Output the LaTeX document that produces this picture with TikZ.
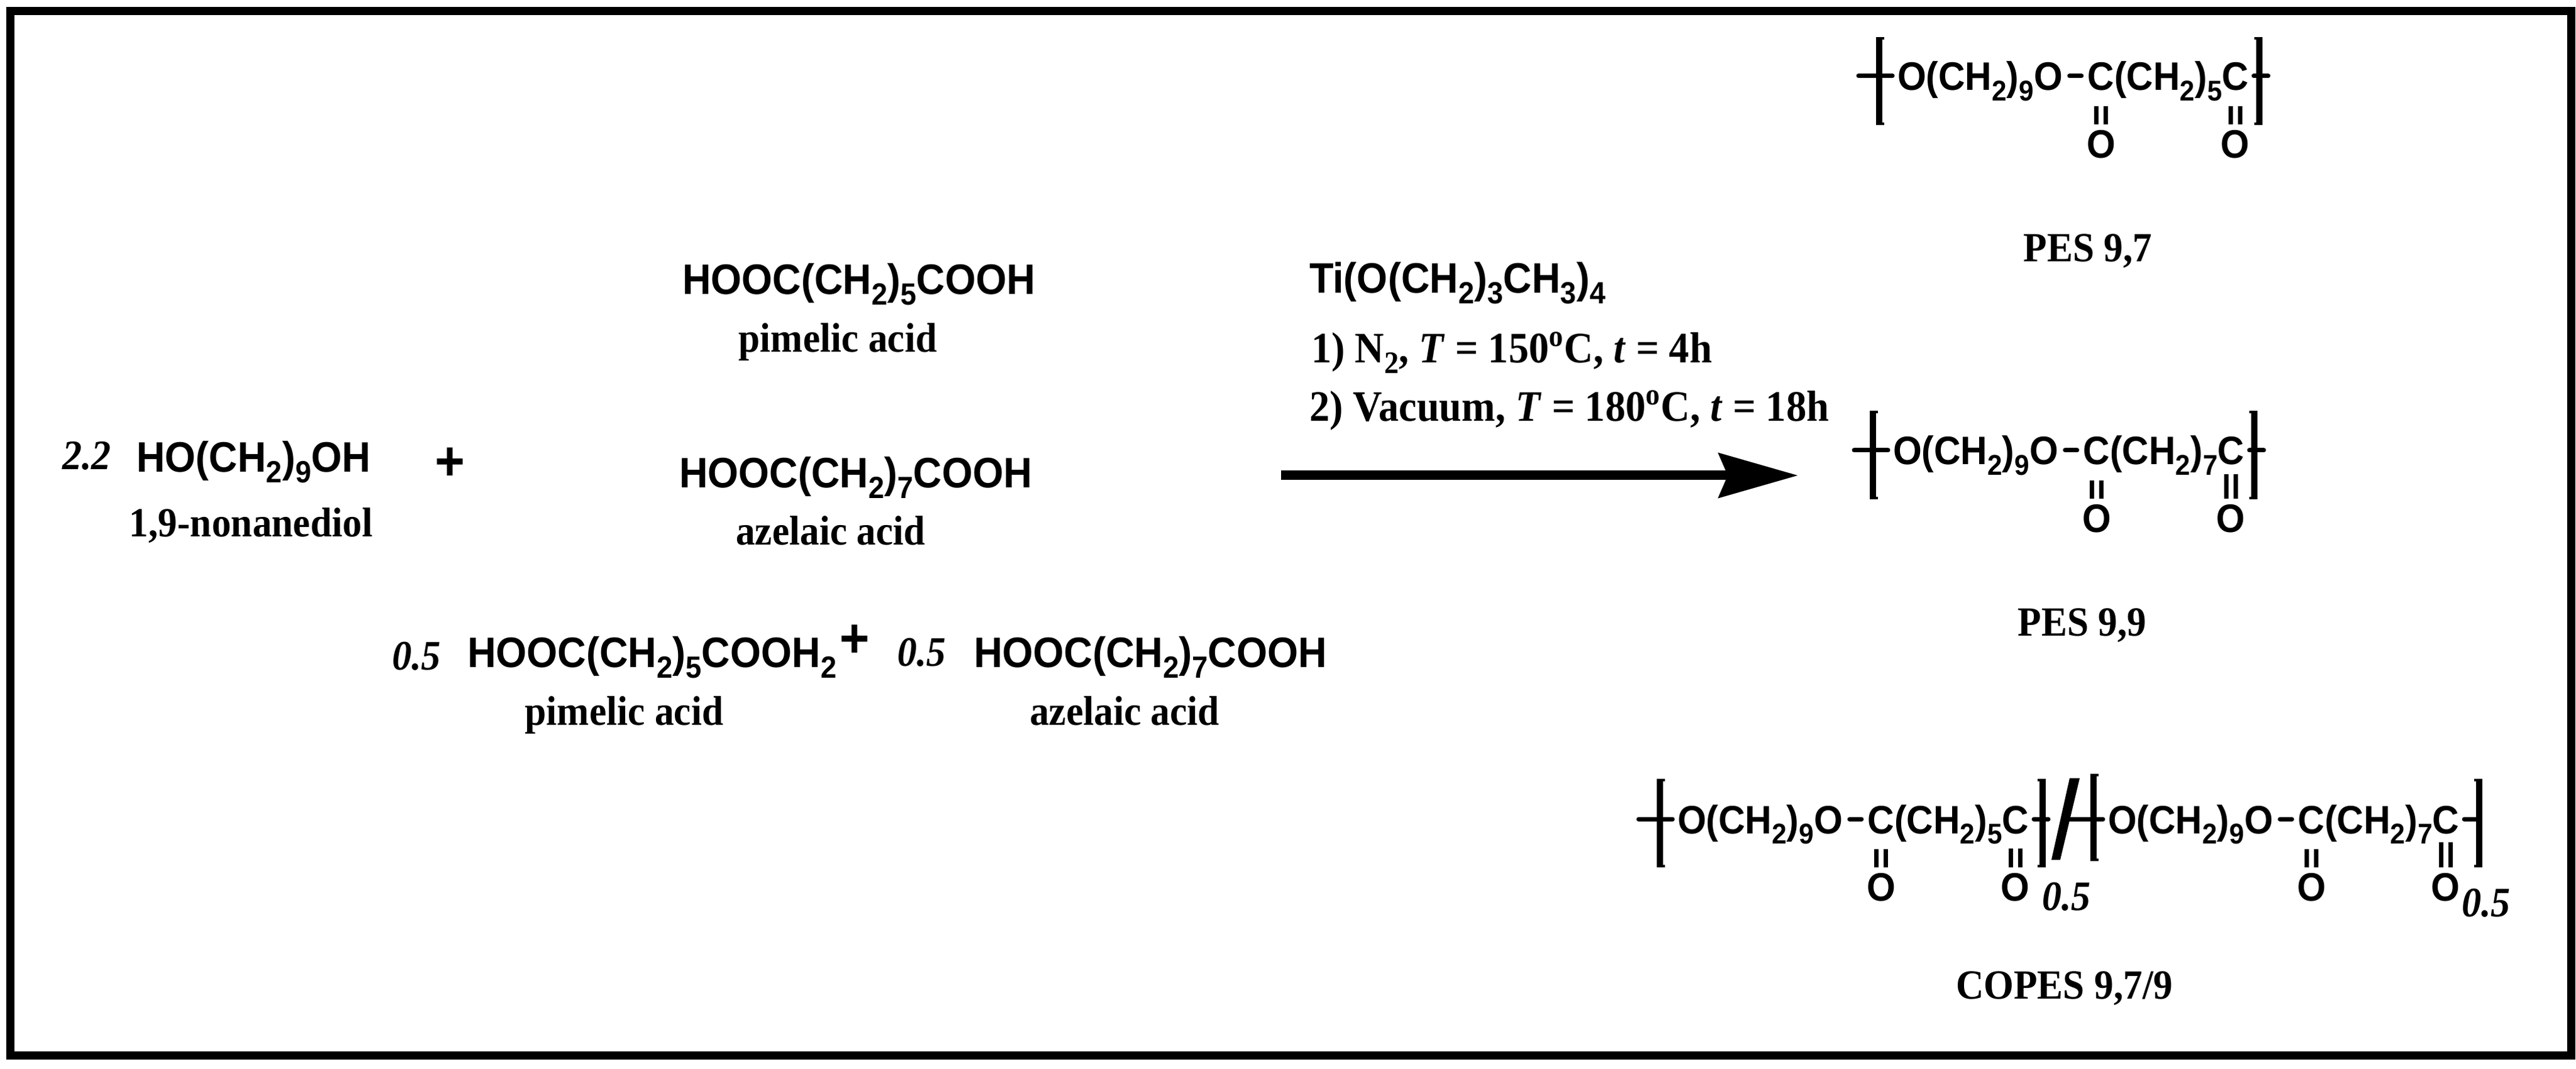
\documentclass[tikz,border=0pt]{standalone}
\usepackage{fontspec}
\setmainfont{Liberation Serif}[FakeStretch=0.93]
\setsansfont{Liberation Sans}[FakeStretch=0.93]
\usetikzlibrary{arrows.meta, positioning}

\tikzset{
  chem/.style={font=\sffamily\bfseries\fontsize{19.3}{19.3}\selectfont, inner sep=0pt, outer sep=0pt},
  polym/.style={font=\sffamily\bfseries\fontsize{18}{18}\selectfont, inner sep=0pt, outer sep=0pt},
  cname/.style={font=\bfseries\fontsize{18.8}{18.8}\selectfont, inner sep=0pt, outer sep=0pt, anchor=base},
  cond/.style={font=\bfseries\fontsize{19.7}{19.7}\selectfont, inner sep=0pt, outer sep=0pt, anchor=base west},
  coef/.style={font=\bfseries\itshape\fontsize{19}{19}\selectfont, inner sep=0pt, outer sep=0pt, anchor=base west},
  plussign/.style={font=\sffamily\bfseries\fontsize{25}{25}\selectfont, inner sep=0pt, outer sep=0pt},
  boxframe/.style={line width=1.3mm},
  reaction/.style={line width=1.5mm, -{Stealth[length=12.6mm, width=7mm, inset=1.4mm]}},
  bond/.style={line width=.7mm, line cap=round},
  dbond/.style={line width=.7mm, double, double distance=.8mm},
  brk/.style={line width=1mm},
  nub/.style={line width=.4mm}
}

\newcommand{\ssub}[1]{\raisebox{-1.7mm}{\scalebox{.72}{#1}}}

% repeat unit: name, x, y, digit, top gap of second C=O
\newcommand{\polyunit}[5]{
  \node[polym, anchor=base west] (#1a) at (#2,#3) {O(CH\ssub{2})\ssub{9}O};
  \node[polym, base right=4mm of #1a] (#1b) {C};
  \node[polym, base right=0mm of #1b] (#1c) {(CH\ssub{2})\ssub{#4}};
  \node[polym, base right=0mm of #1c] (#1d) {C};
  \node[polym, below=6.3mm of #1b] (#1e) {O};
  \node[polym, below=6.3mm of #1d] (#1f) {O};
  \draw[bond, shorten <=1.1mm, shorten >=1mm] ([yshift=2.3mm]#1a.base east) -- ([yshift=2.3mm]#1b.base west);
  \draw[dbond, shorten <=2.4mm, shorten >=1mm] (#1b.south) -- (#1e.north);
  \draw[dbond, shorten <=#5, shorten >=1mm] (#1d.south) -- (#1f.north);
  \coordinate (#1l) at ([xshift=-6.2mm, yshift=2.3mm]#1a.base west);
  \coordinate (#1r) at ([xshift=3.1mm, yshift=2.3mm]#1d.base east);
  \draw[bond, shorten >=.8mm] (#1l) -- ([yshift=2.3mm]#1a.base west);
  \draw[bond, shorten >=.8mm] (#1r) -- ([yshift=2.3mm]#1d.base east);
}
% brackets: x, top, bottom
\newcommand{\lbrk}[3]{
  \draw[brk] (#1,#2) -- (#1,#3);
  \draw[nub] (#1-.5,#2+.2) -- ++(1.3,0);
  \draw[nub] (#1-.5,#3-.2) -- ++(1.3,0);
}
\newcommand{\rbrk}[3]{
  \draw[brk] (#1,#2) -- (#1,#3);
  \draw[nub] (#1+.5,#2+.2) -- ++(-1.3,0);
  \draw[nub] (#1+.5,#3-.2) -- ++(-1.3,0);
}

\begin{document}
\begin{tikzpicture}[x=1mm, y=-1mm]
\path[use as bounding box] (0,0) rectangle (410,170.2);
\draw[boxframe] (1.65,1.75) rectangle (409.2,168);

% monomers
\node[coef] (c1) at (9.9,74.8) {2.2};
\node[chem, anchor=base west] (D) at (21.7,75.2) {HO(CH\ssub{2})\ssub{9}OH};
\node[cname] (D1) at (39.95,85.5) {1,9-nonanediol};
\node[plussign] (P1) at (71.6,73.9) {+};

\node[chem, anchor=base west] (A) at (108.6,46.9) {HOOC(CH\ssub{2})\ssub{5}COOH};
\node[cname] (A1) at (133.35,56.1) {pimelic acid};
\node[chem, anchor=base west] (B) at (108.1,77.7) {HOOC(CH\ssub{2})\ssub{7}COOH};
\node[cname] (B1) at (132.2,86.8) {azelaic acid};

\node[coef] (c2) at (62.4,106.6) {0.5};
\node[chem, anchor=base west] (E) at (74.4,106.3) {HOOC(CH\ssub{2})\ssub{5}COOH\ssub{2}};
\node[cname] (E1) at (99.35,115.5) {pimelic acid};
\node[plussign] (P2) at (136,102.1) {+};
\node[coef] (c3) at (142.8,106.1) {0.5};
\node[chem, anchor=base west] (F) at (155,106.3) {HOOC(CH\ssub{2})\ssub{7}COOH};
\node[cname] (F1) at (179,115.5) {azelaic acid};

% conditions
\node[chem, anchor=base west] (T) at (208.4,46.7) {Ti(O(CH\ssub{2})\ssub{3}CH\ssub{3})\ssub{4}};
\node[cond] (T1) at (208.7,57.8) {1) N\ssub{2}, \textit{T} = 150\textsuperscript{o}C, \textit{t} = 4h};
\node[cond] (T2) at (208.4,67.1) {2) Vacuum, \textit{T} = 180\textsuperscript{o}C, \textit{t} = 18h};
\coordinate (S) at (203.9,75.7);
\coordinate (R) at (286.2,75.7);
\draw[reaction] (S) -- (R);

% PES 9,7
\polyunit{u}{302}{14.4}{5}{2.4mm}
\lbrk{299.1}{5.9}{19.9}
\rbrk{359.6}{5.9}{19.9}
\node[cname] (U1) at (332.3,41.7) {PES 9,7};

% PES 9,9
\polyunit{v}{301.3}{74}{7}{1.4mm}
\lbrk{298.1}{65.4}{79.5}
\rbrk{358.8}{65.4}{79.5}
\node[cname] (V1) at (331.4,101.3) {PES 9,9};

% COPES 9,7/9
\polyunit{w}{267}{132.7}{5}{2.3mm}
\lbrk{264.2}{124}{138.1}
\rbrk{325.1}{124}{138.1}
\fill (329.4,123.9) -- (331,123.9) -- (327.9,136.9) -- (326.5,136.9) -- cycle;
\polyunit{z}{335.5}{132.7}{7}{1.3mm}
\lbrk{333.2}{123.2}{137.1}
\rbrk{394.6}{124}{138.1}
\node[coef] (w5) at (325,144.9) {0.5};
\node[coef] (z5) at (391.8,145.9) {0.5};
\node[cname] (W1) at (328.55,159) {COPES 9,7/9};
\end{tikzpicture}
\end{document}
